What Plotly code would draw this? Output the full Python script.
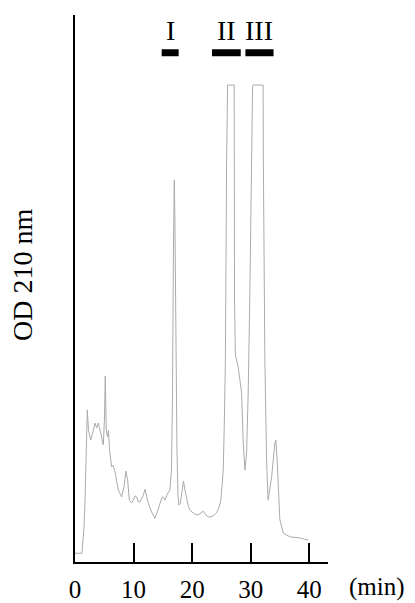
import plotly.graph_objects as go

# Elution time (min) and absorbance at 210 nm (relative units)
time_min = [
    0.00, 1.19, 1.37, 1.54, 1.71, 1.88, 2.10, 2.30, 2.68, 3.07, 3.41, 3.70, 3.98,
    4.39, 4.83, 5.03, 5.17, 5.34, 5.55, 5.72, 5.89, 6.26, 6.48, 6.83, 7.39, 7.97,
    8.36, 8.70, 8.99, 9.27, 9.68, 9.95, 10.24, 10.53, 10.80, 11.09, 11.66, 11.95,
    12.24, 12.51, 13.09, 13.65, 14.16, 14.51, 14.80, 15.02, 15.36, 15.75, 16.21,
    16.47, 16.64, 16.81, 16.95, 17.06, 17.24, 17.41, 17.58, 17.75, 18.00, 18.26,
    18.52, 18.77, 19.06, 19.37, 19.62, 20.14, 20.77, 21.33, 21.89, 22.35, 22.87,
    23.55, 24.18, 24.57, 24.91, 25.17, 25.31, 25.51, 25.68, 25.89, 26.06, 27.18,
    27.24, 27.39, 27.87, 28.45, 28.72, 29.01, 29.30, 29.57, 29.86, 30.32, 30.42,
    32.12, 32.16, 32.42, 32.71, 32.98, 33.57, 34.13, 34.30, 34.52, 34.98, 35.55,
    36.69, 38.40, 39.81,
]
od_210 = [
    0.016, 0.016, 0.040, 0.064, 0.113, 0.205, 0.278, 0.241, 0.223, 0.238, 0.254,
    0.245, 0.254, 0.236, 0.214, 0.260, 0.340, 0.241, 0.229, 0.241, 0.205, 0.174,
    0.177, 0.165, 0.132, 0.119, 0.137, 0.166, 0.150, 0.113, 0.108, 0.113, 0.121,
    0.119, 0.110, 0.110, 0.122, 0.133, 0.119, 0.108, 0.091, 0.080, 0.095, 0.110,
    0.117, 0.119, 0.113, 0.124, 0.132, 0.168, 0.296, 0.570, 0.698, 0.625, 0.388,
    0.205, 0.122, 0.104, 0.108, 0.132, 0.148, 0.132, 0.113, 0.101, 0.095, 0.090,
    0.086, 0.088, 0.093, 0.086, 0.082, 0.084, 0.090, 0.099, 0.113, 0.141, 0.168,
    0.260, 0.369, 0.735, 0.872, 0.872, 0.479, 0.378, 0.356, 0.309, 0.218, 0.168,
    0.199, 0.309, 0.492, 0.868, 0.872, 0.872, 0.735, 0.369, 0.186, 0.113, 0.155,
    0.218, 0.223, 0.186, 0.077, 0.053, 0.046, 0.044, 0.040,
]

# Collected fractions
fraction_labels = ["I", "II", "III"]
fraction_start = [14.8, 23.4, 29.1]
fraction_end = [17.7, 28.3, 33.9]
fraction_level = 0.931

tick_values = [0, 10, 20, 30, 40]
tick_text = ["0", "10", "20", "30", "40"]

SERIF = "Times New Roman, Times, Liberation Serif, Tinos, serif"

fig = go.Figure()
fig.add_trace(go.Scatter(
    x=time_min, y=od_210, mode="lines",
    line=dict(color="#ababab", width=1),
    hoverinfo="skip", showlegend=False,
))

for lab, x0, x1 in zip(fraction_labels, fraction_start, fraction_end):
    fig.add_shape(type="line", xref="x", yref="y", x0=x0, x1=x1,
                  y0=fraction_level, y1=fraction_level,
                  line=dict(color="black", width=7))
    fig.add_annotation(x=(x0 + x1) / 2, y=fraction_level, xref="x", yref="y",
                       text=lab, showarrow=False, yanchor="bottom", yshift=5,
                       font=dict(family=SERIF, size=28, color="black"))

fig.add_annotation(x=1.194, y=-0.046, xref="paper", yref="paper",
                   text="(min)", showarrow=False, xanchor="center", yanchor="middle",
                   font=dict(family=SERIF, size=25, color="black"))
fig.add_annotation(x=-0.205, y=0.525, xref="paper", yref="paper",
                   text="OD 210 nm", textangle=-90, showarrow=False,
                   xanchor="center", yanchor="middle",
                   font=dict(family=SERIF, size=28, color="black"))

fig.update_xaxes(
    range=[0, 43.2], tickvals=tick_values, ticktext=tick_text,
    ticks="inside", ticklen=19, tickwidth=2, tickcolor="black",
    showline=True, linewidth=2, linecolor="black",
    showgrid=False, zeroline=False, ticklabelstandoff=4, automargin=False,
    tickfont=dict(family=SERIF, size=25, color="black"),
)
fig.update_yaxes(
    range=[0, 1.0], showticklabels=False, ticks="",
    showline=True, linewidth=2, linecolor="black",
    showgrid=False, zeroline=False, automargin=False,
)
fig.update_layout(
    width=415, height=603,
    margin=dict(l=75, r=87, t=15, b=41),
    paper_bgcolor="white", plot_bgcolor="white",
)

fig.write_html("out.html")
